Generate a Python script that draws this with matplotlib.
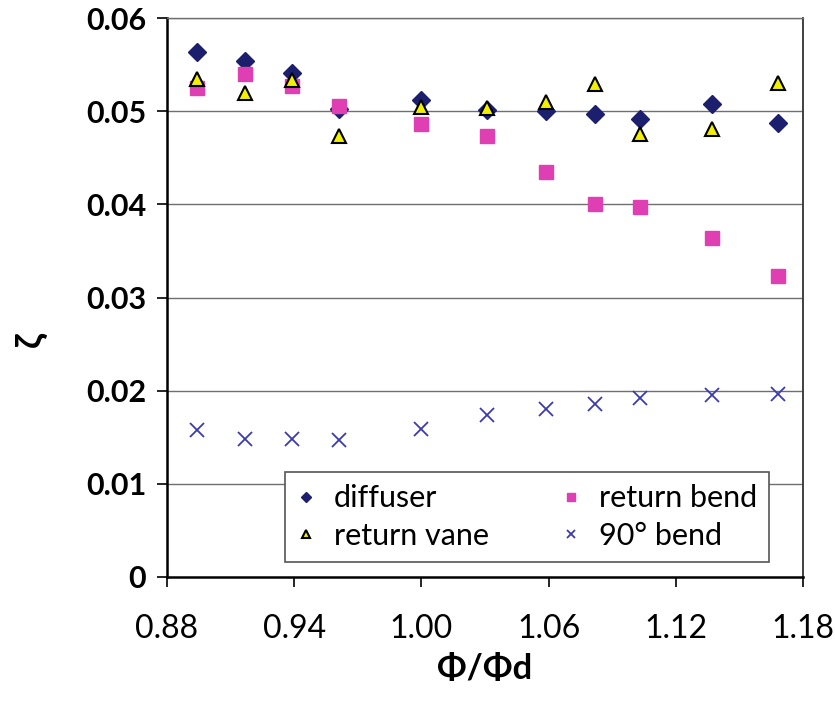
import matplotlib
matplotlib.use('Agg')
import matplotlib.pyplot as plt

plt.rcParams['font.family'] = ['Lato', 'DejaVu Sans']

phi = [0.894, 0.917, 0.939, 0.961, 1.000, 1.031, 1.059, 1.082, 1.103, 1.137, 1.168]

diffuser = [0.0564, 0.0554, 0.0541, 0.0502, 0.0512, 0.0501, 0.0500, 0.0497, 0.0492, 0.0508, 0.0487]
return_bend = [0.0525, 0.0540, 0.0527, 0.0506, 0.0486, 0.0473, 0.0435, 0.0400, 0.0397, 0.0364, 0.0323]
return_vane = [0.0535, 0.0520, 0.0534, 0.0473, 0.0504, 0.0503, 0.0510, 0.0529, 0.0475, 0.0481, 0.0530]
bend90 = [0.0158, 0.0148, 0.0148, 0.0147, 0.0159, 0.0174, 0.0180, 0.0186, 0.0192, 0.0195, 0.0196]

xticks = [0.88, 0.94, 1.00, 1.06, 1.12, 1.18]
yticks = [0, 0.01, 0.02, 0.03, 0.04, 0.05, 0.06]
ytick_labels = ['0', '0.01', '0.02', '0.03', '0.04', '0.05', '0.06']

fig = plt.figure(figsize=(8.35, 7.04), dpi=100)
ax = fig.add_axes([0.2, 0.1804, 0.7617, 0.794])

# gridlines behind the points
for v in yticks[1:]:
    ax.axhline(v, color='#6f6f6f', lw=1.0, zorder=1)

h1, = ax.plot(phi, diffuser, 'D', color='#1c1f6e', ms=9, ls='none', zorder=3, label='diffuser')
h2, = ax.plot(phi, return_bend, 's', color='#e03fb3', ms=10, ls='none', zorder=4, label='return bend')
h3, = ax.plot(phi, return_vane, '^', mfc='#f2f000', mec='black', mew=1.5, ms=10.5, ls='none', zorder=5, label='return vane')
h4, = ax.plot(phi, bend90, 'x', color='#3b3bb0', ms=10, mew=1.3, ls='none', zorder=5, label='90° bend')

ax.set_xlim(0.88, 1.18)
ax.set_ylim(0, 0.06)
ax.set_xticks(xticks)
ax.set_xticklabels(['%.2f' % t for t in xticks], fontsize=23)
ax.set_yticks(yticks)
ax.set_yticklabels(ytick_labels, fontsize=22, fontweight='bold')
ax.tick_params(axis='both', direction='out', length=7, width=1.2, colors='black')
ax.tick_params(axis='x', pad=20)
ax.tick_params(axis='y', pad=8)

ax.spines['left'].set_color('black')
ax.spines['left'].set_linewidth(1.8)
ax.spines['bottom'].set_color('black')
ax.spines['bottom'].set_linewidth(1.8)
ax.spines['right'].set_color('#333333')
ax.spines['right'].set_linewidth(1.3)
ax.spines['top'].set_color('#6f6f6f')
ax.spines['top'].set_linewidth(1.0)

ax.set_xlabel('Φ/Φd', fontsize=25, fontweight='bold', labelpad=6)
fig.text(0.036, 0.517, 'ζ', fontsize=26, fontweight='bold', rotation=90, ha='center', va='center')

leg = ax.legend([h1, h3, h2, h4], ['diffuser', 'return vane', 'return bend', '90° bend'],
                ncol=2, loc='upper left', bbox_to_anchor=(0.341, 0.3295),
                bbox_transform=fig.transFigure, fontsize=22, markerscale=0.6,
                frameon=True, fancybox=False, framealpha=1, edgecolor='#555555',
                handlelength=0.6, handletextpad=0.6, columnspacing=2.4,
                borderpad=0.4, labelspacing=0.32, borderaxespad=0)
leg.get_frame().set_linewidth(1.2)

fig.savefig('out.png', dpi=100)
